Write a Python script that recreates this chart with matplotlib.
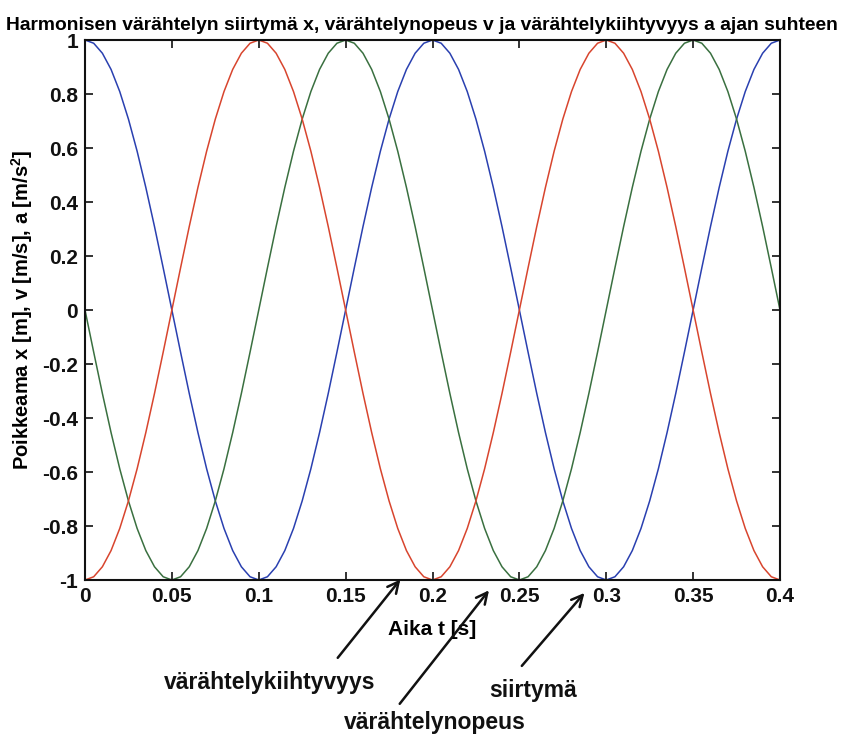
import numpy as np
import matplotlib
matplotlib.use("Agg")
import matplotlib.pyplot as plt

plt.rcParams['font.family'] = ['Liberation Sans', 'DejaVu Sans']
plt.rcParams['mathtext.fontset'] = 'custom'
plt.rcParams['mathtext.rm'] = 'Liberation Sans:bold'

# time samples, 0 ... 0.4 s every 0.005 s
t = np.linspace(0, 0.4, 81)

# siirtymä x (blue)
x_vals = [1.000, 0.988, 0.951, 0.891, 0.809, 0.707, 0.588, 0.454, 0.309, 0.156,
          0.000, -0.156, -0.309, -0.454, -0.588, -0.707, -0.809, -0.891, -0.951, -0.988,
          -1.000, -0.988, -0.951, -0.891, -0.809, -0.707, -0.588, -0.454, -0.309, -0.156,
          0.000, 0.156, 0.309, 0.454, 0.588, 0.707, 0.809, 0.891, 0.951, 0.988,
          1.000, 0.988, 0.951, 0.891, 0.809, 0.707, 0.588, 0.454, 0.309, 0.156,
          0.000, -0.156, -0.309, -0.454, -0.588, -0.707, -0.809, -0.891, -0.951, -0.988,
          -1.000, -0.988, -0.951, -0.891, -0.809, -0.707, -0.588, -0.454, -0.309, -0.156,
          0.000, 0.156, 0.309, 0.454, 0.588, 0.707, 0.809, 0.891, 0.951, 0.988,
          1.000]

# värähtelynopeus v (green)
v_vals = [0.000, -0.156, -0.309, -0.454, -0.588, -0.707, -0.809, -0.891, -0.951, -0.988,
          -1.000, -0.988, -0.951, -0.891, -0.809, -0.707, -0.588, -0.454, -0.309, -0.156,
          0.000, 0.156, 0.309, 0.454, 0.588, 0.707, 0.809, 0.891, 0.951, 0.988,
          1.000, 0.988, 0.951, 0.891, 0.809, 0.707, 0.588, 0.454, 0.309, 0.156,
          0.000, -0.156, -0.309, -0.454, -0.588, -0.707, -0.809, -0.891, -0.951, -0.988,
          -1.000, -0.988, -0.951, -0.891, -0.809, -0.707, -0.588, -0.454, -0.309, -0.156,
          0.000, 0.156, 0.309, 0.454, 0.588, 0.707, 0.809, 0.891, 0.951, 0.988,
          1.000, 0.988, 0.951, 0.891, 0.809, 0.707, 0.588, 0.454, 0.309, 0.156,
          0.000]

# värähtelykiihtyvyys a (red)
a_vals = [-1.000, -0.988, -0.951, -0.891, -0.809, -0.707, -0.588, -0.454, -0.309, -0.156,
          0.000, 0.156, 0.309, 0.454, 0.588, 0.707, 0.809, 0.891, 0.951, 0.988,
          1.000, 0.988, 0.951, 0.891, 0.809, 0.707, 0.588, 0.454, 0.309, 0.156,
          0.000, -0.156, -0.309, -0.454, -0.588, -0.707, -0.809, -0.891, -0.951, -0.988,
          -1.000, -0.988, -0.951, -0.891, -0.809, -0.707, -0.588, -0.454, -0.309, -0.156,
          0.000, 0.156, 0.309, 0.454, 0.588, 0.707, 0.809, 0.891, 0.951, 0.988,
          1.000, 0.988, 0.951, 0.891, 0.809, 0.707, 0.588, 0.454, 0.309, 0.156,
          0.000, -0.156, -0.309, -0.454, -0.588, -0.707, -0.809, -0.891, -0.951, -0.988,
          -1.000]

x_ticks = [0, 0.05, 0.1, 0.15, 0.2, 0.25, 0.3, 0.35, 0.4]
x_ticklabels = ['0', '0.05', '0.1', '0.15', '0.2', '0.25', '0.3', '0.35', '0.4']
y_ticks = [-1, -0.8, -0.6, -0.4, -0.2, 0, 0.2, 0.4, 0.6, 0.8, 1]
y_ticklabels = ['-1', '-0.8', '-0.6', '-0.4', '-0.2', '0', '0.2', '0.4', '0.6', '0.8', '1']

# annotation labels: (text, arrow head (data), text position (figure px))
notes = [
    ('värähtelykiihtyvyys', (0.1825, -0.99), (270, 683)),
    ('värähtelynopeus', (0.2335, -1.03), (435, 722)),
    ('siirtymä', (0.2885, -1.04), (533, 690)),
]
tails = [(336, 660), (398, 706), (520, 668)]

W, H = 844, 738
fig = plt.figure(figsize=(W / 100, H / 100), dpi=100)
ax = fig.add_axes([85 / W, 1 - 580 / H, (780 - 85) / W, (580 - 40) / H])

ax.plot(t, x_vals, color='#2a40b0', lw=1.1)
ax.plot(t, v_vals, color='#3a7040', lw=1.1)
ax.plot(t, a_vals, color='#d8452e', lw=1.1)

ax.set_xlim(0, 0.4)
ax.set_ylim(-1, 1)
ax.set_xticks(x_ticks)
ax.set_xticklabels(x_ticklabels)
ax.set_yticks(y_ticks)
ax.set_yticklabels(y_ticklabels)
ax.tick_params(direction='in', top=True, right=True, length=6, width=1.2,
               labelsize=15, pad=5, colors='#111111')
for lab in ax.get_xticklabels() + ax.get_yticklabels():
    lab.set_fontweight('bold')
for s in ax.spines.values():
    s.set_linewidth(1.5)
    s.set_color('#111111')

ax.set_title('Harmonisen värähtelyn siirtymä x, värähtelynopeus v ja värähtelykiihtyvyys a ajan suhteen',
             fontsize=13.9, fontweight='bold', pad=7, x=0.485)
ax.set_xlabel('Aika t [s]', fontsize=15, labelpad=10, fontweight='bold')
ax.set_ylabel('Poikkeama x [m], v [m/s], a [m/s$^2$]', fontsize=14.5, labelpad=5,
              fontweight='bold')

# arrows with labels below the axes
for (label, head, txt), tail in zip(notes, tails):
    ax.annotate('', xy=head, xycoords='data',
                xytext=(tail[0], H - tail[1]), textcoords='figure pixels',
                arrowprops=dict(arrowstyle='->', lw=1.8, color='#111111',
                                mutation_scale=20),
                annotation_clip=False)
    fig.text(txt[0] / W, 1 - txt[1] / H, label, fontsize=16.5, fontweight='bold',
             ha='center', va='center', color='#111111')

fig.savefig('out.png', dpi=100)
